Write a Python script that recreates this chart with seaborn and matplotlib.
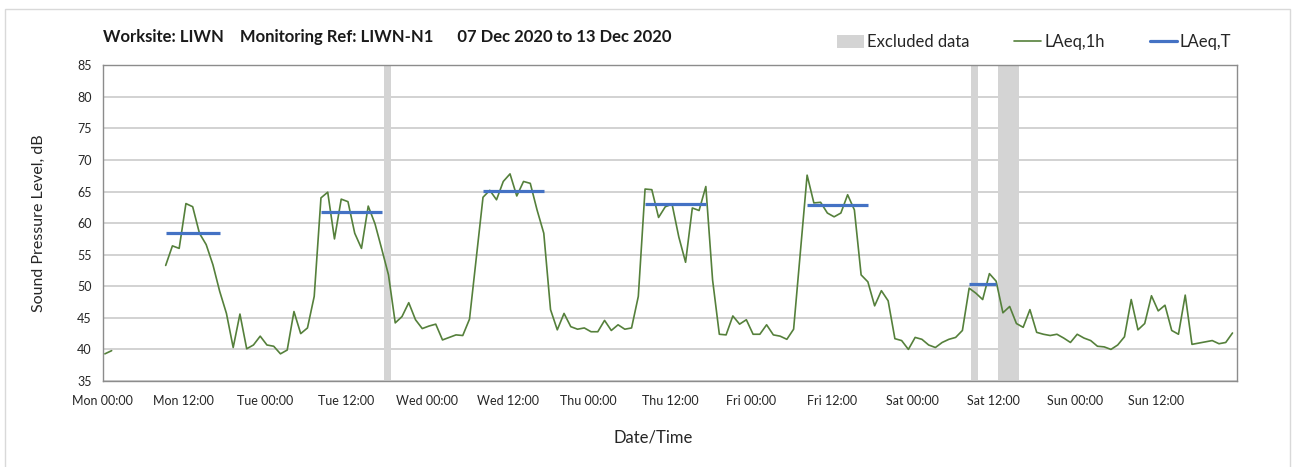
import numpy as np
import pandas as pd
import seaborn as sns
import matplotlib.pyplot as plt
import matplotlib.dates as mdates
from matplotlib.ticker import FuncFormatter
from matplotlib.patches import Patch, Rectangle
from matplotlib.lines import Line2D

# hourly LAeq,1h values, Mon 07 Dec 2020 00:00 onwards (nan = no data)
nan = np.nan
laeq_1h = [
    39.3, 39.8, nan, nan, nan, nan, nan, nan, nan, 53.3, 56.4, 56.0,
    63.1, 62.6, 58.4, 56.6, 53.4, 49.2, 45.7, 40.3, 45.6, 40.1, 40.7, 42.1,
    40.7, 40.5, 39.3, 39.9, 46.0, 42.5, 43.4, 48.4, 64.0, 64.9, 57.5, 63.8,
    63.4, 58.4, 56.0, 62.7, 59.9, 55.9, 51.8, 44.2, 45.2, 47.4, 44.7, 43.3,
    43.7, 44.0, 41.5, 41.9, 42.3, 42.2, 44.8, 54.5, 64.1, 65.2, 63.7, 66.6,
    67.8, 64.3, 66.6, 66.3, 62.1, 58.4, 46.3, 43.1, 45.7, 43.6, 43.2, 43.4,
    42.8, 42.8, 44.6, 43.0, 43.9, 43.2, 43.4, 48.4, 65.4, 65.3, 60.9, 62.6,
    63.0, 57.8, 53.8, 62.4, 62.0, 65.8, 51.0, 42.4, 42.3, 45.3, 44.0, 44.7,
    42.4, 42.4, 43.9, 42.3, 42.1, 41.6, 43.2, 55.4, 67.6, 63.2, 63.3, 61.6,
    61.0, 61.6, 64.5, 62.1, 51.8, 50.7, 46.9, 49.3, 47.7, 41.7, 41.4, 40.0,
    41.9, 41.6, 40.7, 40.3, 41.1, 41.6, 41.9, 43.0, 49.7, 48.9, 47.9, 52.0,
    50.8, 45.8, 46.8, 44.1, 43.5, 46.3, 42.7, 42.4, 42.2, 42.4, 41.8, 41.1,
    42.4, 41.8, 41.4, 40.5, 40.4, 40.0, 40.7, 42.0, 47.9, 43.1, 44.1, 48.5,
    46.1, 47.0, 43.0, 42.4, 48.6, 40.8, 41.0, 41.2, 41.4, 40.9, 41.1, 42.6,
]

# LAeq,T over each daytime period
period_start = ['2020-12-07 09:20', '2020-12-08 08:20', '2020-12-09 08:20',
                '2020-12-10 08:20', '2020-12-11 08:20', '2020-12-12 08:20']
period_end = ['2020-12-07 17:20', '2020-12-08 17:20', '2020-12-09 17:20',
              '2020-12-10 17:20', '2020-12-11 17:20', '2020-12-12 12:20']
laeq_t = [58.4, 61.8, 65.1, 63.0, 62.8, 50.3]

# excluded data windows
excl_start = ['2020-12-08 17:40', '2020-12-12 08:35', '2020-12-12 12:40']
excl_end = ['2020-12-08 18:40', '2020-12-12 09:35', '2020-12-12 15:40']

df = pd.DataFrame({
    'time': pd.date_range('2020-12-07 00:20', periods=len(laeq_1h), freq='h'),
    'level': laeq_1h,
})
# split into runs so gaps stay gaps
df['run'] = df['level'].isna().cumsum()
df = df.dropna()

green = '#55803b'
blue = '#4472c4'
band = '#d4d4d4'
grey = '#8c8c8c'
txt = '#262626'

sns.set_style('white')
plt.rcParams['font.family'] = ['Lato', 'DejaVu Sans']

fig = plt.figure(figsize=(13.01, 4.67), dpi=100)
ax = fig.add_axes([0.0789, 0.1842, 0.8719, 0.676])

for s, e in zip(excl_start, excl_end):
    ax.axvspan(pd.Timestamp(s), pd.Timestamp(e), color=band, lw=0, zorder=1)

sns.lineplot(data=df, x='time', y='level', units='run', estimator=None,
             color=green, lw=1.2, ax=ax, zorder=3)

for s, e, v in zip(period_start, period_end, laeq_t):
    ax.plot([pd.Timestamp(s), pd.Timestamp(e)], [v, v], color=blue, lw=2.3,
            solid_capstyle='butt', zorder=4)

x0, x1 = pd.Timestamp('2020-12-07 00:00'), pd.Timestamp('2020-12-14 00:00')
ax.set_xlim(x0, x1)
ax.set_ylim(35, 85)
ax.set_yticks(range(35, 86, 5))
xmax = mdates.date2num(x1)
ax.xaxis.set_major_locator(mdates.HourLocator(byhour=[0, 12]))
ax.xaxis.set_major_formatter(FuncFormatter(
    lambda x, pos: '' if x >= xmax - 0.01 else mdates.num2date(x).strftime('%a %H:%M')))
ax.xaxis.set_minor_locator(mdates.DayLocator())
ax.grid(axis='y', which='major', color='#cfcfcf', lw=1.3, zorder=0)
ax.grid(axis='x', which='minor', color='#e0e0e0', lw=1.2, zorder=0)
ax.set_axisbelow(True)
ax.tick_params(axis='both', which='major', direction='out', length=5, width=1,
               color=grey, labelsize=9, labelcolor=txt, pad=3)
ax.tick_params(axis='x', which='minor', length=0)
ax.tick_params(axis='x', which='major', pad=5)
for sp in ax.spines.values():
    sp.set_visible(True)
    sp.set_color(grey)
    sp.set_linewidth(1)
ax.set_xlabel('')
ax.set_ylabel('Sound Pressure Level, dB', fontsize=11.5, color=txt, labelpad=22)

fig.text(0.502, 0.063, 'Date/Time', fontsize=12, color=txt, ha='center', va='center')
fig.text(0.079, 0.921, 'Worksite: LIWN    Monitoring Ref: LIWN-N1      07 Dec 2020 to 13 Dec 2020',
         fontsize=12, fontweight='bold', color='#1a1a1a', va='center')

handles = [Patch(facecolor=band, edgecolor='none'),
           Line2D([0], [0], color=green, lw=1.2),
           Line2D([0], [0], color=blue, lw=2.3)]
fig.legend(handles, ['Excluded data', 'LAeq,1h', 'LAeq,T'], ncol=3, frameon=False,
           loc='center right', bbox_to_anchor=(0.958, 0.91), fontsize=12,
           handlelength=1.6, handleheight=0.8, handletextpad=0.2, columnspacing=2.7,
           labelcolor=txt)

fig.patches.append(Rectangle((0.0038, -0.02), 0.9877, 1.0007, transform=fig.transFigure,
                             fill=False, edgecolor='#d9d9d9', lw=1))

fig.savefig('out.png', dpi=100)
